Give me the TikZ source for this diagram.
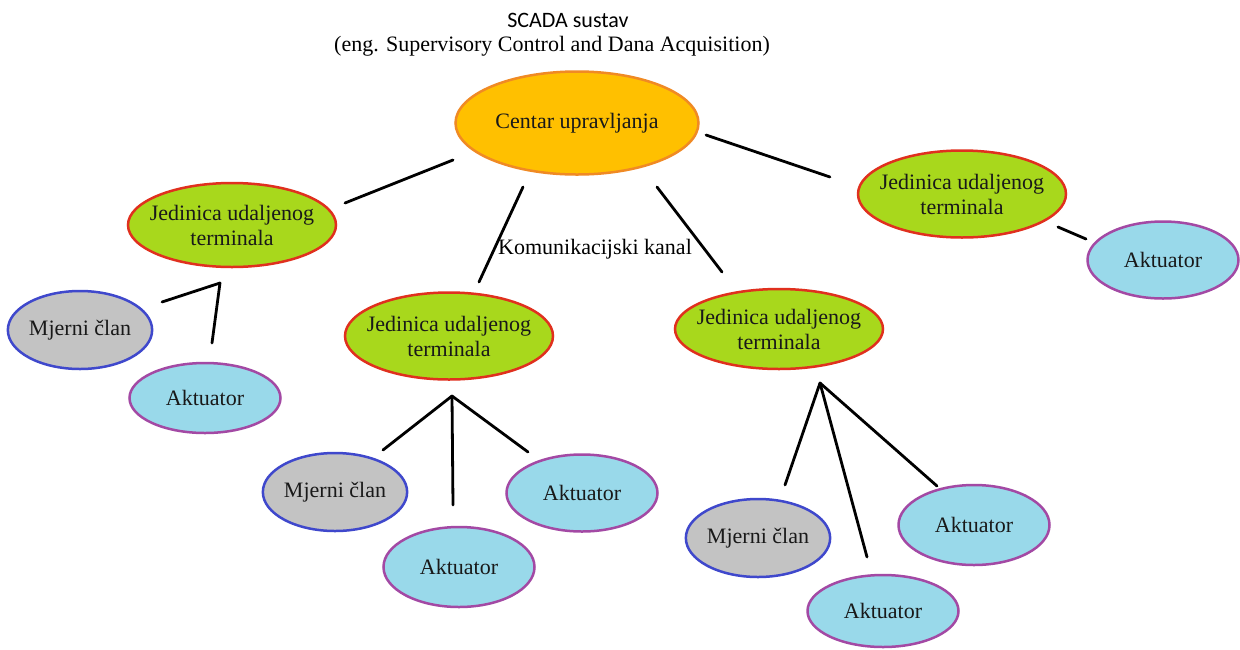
\documentclass[tikz,border=0pt]{standalone}
\usepackage{fontspec}
\setmainfont{Liberation Serif}
\newfontfamily\titlefont{Carlito}
\usetikzlibrary{shapes.geometric}
\definecolor{orfill}{HTML}{FFC000}
\definecolor{ordraw}{HTML}{F08A24}
\definecolor{rtufill}{HTML}{A8D81C}
\definecolor{rtudraw}{HTML}{E0301E}
\definecolor{mjfill}{HTML}{C3C3C3}
\definecolor{mjdraw}{HTML}{3F48CC}
\definecolor{akfill}{HTML}{99D9EA}
\definecolor{akdraw}{HTML}{A349A4}
\begin{document}
\begin{tikzpicture}[x=1pt,y=-1pt,
  base/.style={ellipse, inner sep=0pt, line width=2.5pt, align=center, text=black!90, font=\fontsize{22}{25}\selectfont},
  ctrbox/.style={base, fill=orfill, draw=ordraw, minimum width=243pt, minimum height=103pt},
  rtubox/.style={base, fill=rtufill, draw=rtudraw, inner xsep=-9pt, minimum width=208pt, minimum height=84pt},
  mjbox/.style={base, fill=mjfill, draw=mjdraw, minimum width=143pt, minimum height=78pt},
  akbox/.style={base, fill=akfill, draw=akdraw, minimum width=151pt, minimum height=77pt},
  link/.style={line width=2.8pt, line cap=round, line join=round},
  lbl/.style={inner sep=0pt, font=\fontsize{22}{25}\selectfont}
]
\useasboundingbox (0,0) rectangle (1240,649);
\fill[white] (0,0) rectangle (1240,649);

% titles
\node[inner sep=0pt, font=\titlefont\fontsize{22}{25}\selectfont] (title) at (568,20) {SCADA sustav};
\node[lbl] (subtitle) at (552,46) {(eng. Supervisory Control and Dana Acquisition)};

% nodes
\node[ctrbox] (ctr) at (577,123) {Centar upravljanja};
\node[rtubox] (rtuA) at (232,225) {Jedinica udaljenog\\terminala};
\node[rtubox, minimum height=87pt] (rtuB) at (449,336) {Jedinica udaljenog\\terminala};
\node[rtubox, minimum height=80pt] (rtuC) at (779,329) {Jedinica udaljenog\\terminala};
\node[rtubox, minimum height=87pt] (rtuD) at (962,194) {Jedinica udaljenog\\terminala};

\node[mjbox] (mjA) at (80,330) {Mjerni član};
\node[akbox, minimum height=70pt] (akA) at (205,398) {Aktuator};

\node[mjbox] (mjB) at (335,492) {Mjerni član};
\node[akbox, minimum height=80pt] (akB1) at (459,567) {Aktuator};
\node[akbox] (akB2) at (582,493) {Aktuator};

\node[mjbox] (mjC) at (758,538) {Mjerni član};
\node[akbox, minimum height=72pt] (akC1) at (883,611) {Aktuator};
\node[akbox, minimum height=80pt] (akC2) at (974,525) {Aktuator};

\node[akbox] (akD) at (1163,260) {Aktuator};

\node[lbl] (kanal) at (595,249) {Komunikacijski kanal};

% connector end points
\coordinate (cA1) at (453,160); \coordinate (cA2) at (345,203);
\coordinate (cB1) at (523,187); \coordinate (cB2) at (479,282);
\coordinate (cC1) at (657,187); \coordinate (cC2) at (722,272);
\coordinate (cD1) at (706,135); \coordinate (cD2) at (830,177);
\coordinate (dA1) at (1058,227); \coordinate (dA2) at (1086,239);

\coordinate (jA) at (220,283); \coordinate (jAm) at (162,302); \coordinate (jAa) at (212,343);
\coordinate (jB) at (452,396); \coordinate (jBm) at (383,450); \coordinate (jBa1) at (453,505); \coordinate (jBa2) at (528,452);
\coordinate (jC) at (820,383); \coordinate (jCm) at (785,485); \coordinate (jCa1) at (867,557); \coordinate (jCa2) at (937,486);

% connectors
\draw[link] (cA1) -- (cA2);
\draw[link] (cB1) -- (cB2);
\draw[link] (cC1) -- (cC2);
\draw[link] (cD1) -- (cD2);
\draw[link] (dA1) -- (dA2);

\draw[link] (jAm) -- (jA) -- (jAa);
\draw[link] (jB) -- (jBm);
\draw[link] (jB) -- (jBa1);
\draw[link] (jB) -- (jBa2);
\draw[link] (jC) -- (jCm);
\draw[link] (jC) -- (jCa1);
\draw[link] (jC) -- (jCa2);
\end{tikzpicture}
\end{document}
